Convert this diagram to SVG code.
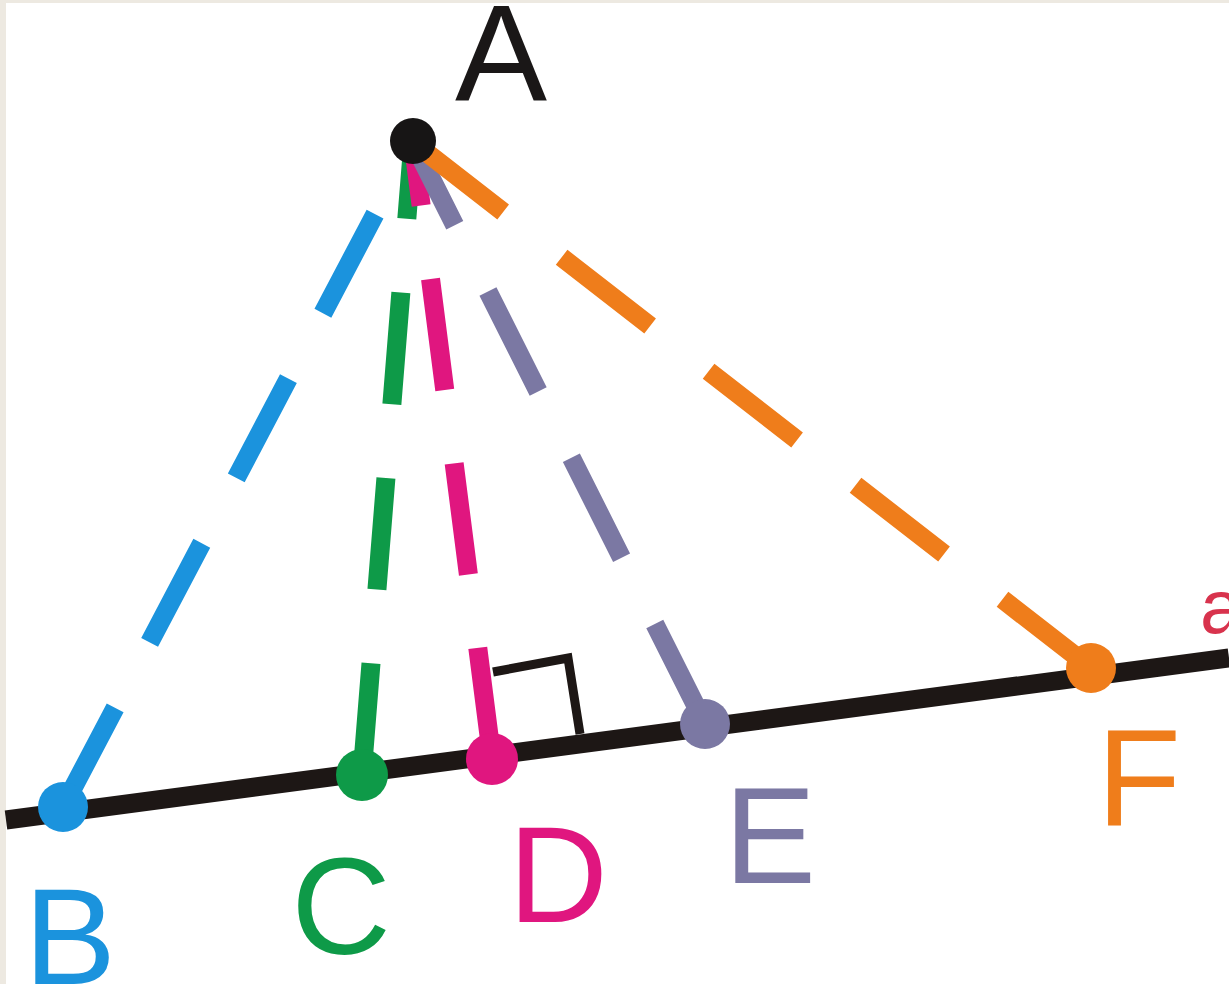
<svg xmlns="http://www.w3.org/2000/svg" width="1229" height="984" viewBox="0 0 1229 984">
<style>
.lbl{font-family:"Liberation Sans",Arial,sans-serif;font-size:138px;text-anchor:middle}
.dash{stroke-width:19;stroke-dasharray:112 74;fill:none;stroke-linecap:butt}
.dot{stroke:none}
</style>
<rect x="0" y="0" width="1229" height="984" fill="#ede9e1"/>
<rect x="6" y="3" width="1223" height="981" fill="#ffffff"/>
<g id="connectors">
<line id="line-a" x1="6" y1="820" x2="1229" y2="658" stroke="#1d1715" stroke-width="19"/>
<line class="dash" x1="63" y1="807" x2="413" y2="142" stroke="#1b93dd"/>
<line class="dash" x1="362" y1="775" x2="413" y2="142" stroke="#0e9a48"/>
<line class="dash" x1="492" y1="759" x2="413" y2="142" stroke="#e0167f"/>
<line class="dash" x1="705" y1="724" x2="413" y2="142" stroke="#7b78a3"/>
<line class="dash" x1="1091" y1="668" x2="413" y2="142" stroke="#ef7d1b"/>
<polyline id="right-angle" points="493,672 568,658 580,734" fill="none" stroke="#1d1715" stroke-width="9"/>
</g>
<g id="node-A">
<circle class="dot" cx="413" cy="141" r="23" fill="#171515"/>
<text class="lbl" x="501" y="101" fill="#1a1717">A</text>
</g>
<g id="node-B">
<circle class="dot" cx="63" cy="807" r="25" fill="#1b93dd"/>
<text class="lbl" x="70" y="984" fill="#1b93dd">B</text>
</g>
<g id="node-C">
<circle class="dot" cx="362" cy="775" r="26" fill="#0e9a48"/>
<text class="lbl" x="341" y="954" fill="#0e9a48">C</text>
</g>
<g id="node-D">
<circle class="dot" cx="492" cy="759" r="26" fill="#e0167f"/>
<text class="lbl" x="558" y="922" fill="#e0167f">D</text>
</g>
<g id="node-E">
<circle class="dot" cx="705" cy="724" r="25" fill="#7b78a3"/>
<text class="lbl" x="770" y="883" fill="#7b78a3">E</text>
</g>
<g id="node-F">
<circle class="dot" cx="1091" cy="668" r="25" fill="#ef7d1b"/>
<text class="lbl" x="1139" y="825" fill="#ef7d1b">F</text>
</g>
<g id="label-a">
<text x="1200" y="633" font-family="'Liberation Sans',Arial,sans-serif" font-size="76" fill="#d8334d">a</text>
</g>
</svg>
